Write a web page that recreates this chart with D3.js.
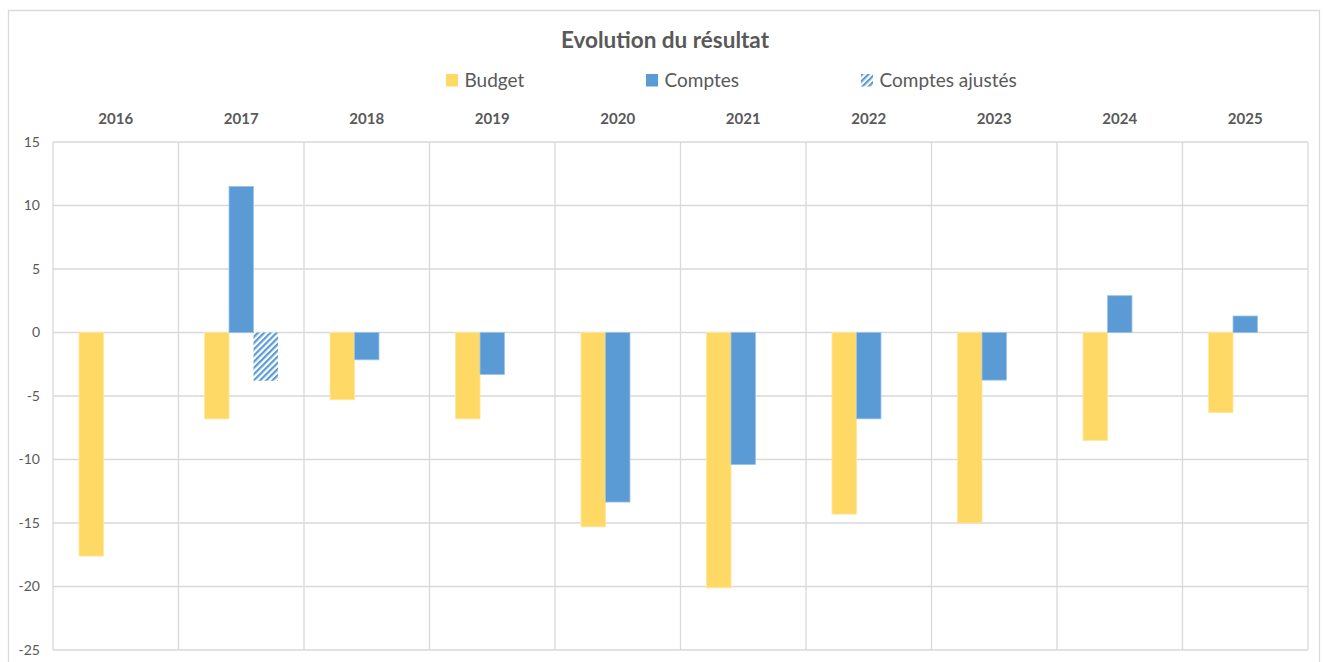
<!DOCTYPE html>
<html>
<head>
<meta charset="utf-8">
<script src="https://cdn.jsdelivr.net/npm/d3@7"></script>
<style>
  html, body { margin: 0; padding: 0; background: #fff; }
  svg { display: block; font-family: Lato, "Open Sans", sans-serif; }
</style>
</head>
<body>
<svg id="chart" width="1324" height="662"></svg>
<script>
// ---- data ----
const years = ["2016","2017","2018","2019","2020","2021","2022","2023","2024","2025"];
const seriesNames = ["Budget","Comptes","Comptes ajustés"];
const budget = [-17.6, -6.8, -5.3, -6.8, -15.3, -20.1, -14.3, -15.0, -8.5, -6.3];
const comptes = [null, 11.5, -2.15, -3.3, -13.35, -10.4, -6.8, -3.75, 2.9, 1.3];
const comptesAjustes = [null, -3.8, null, null, null, null, null, null, null, null];
const yTicks = [15, 10, 5, 0, -5, -10, -15, -20, -25];
const title = "Evolution du résultat";

// ---- layout ----
const svg = d3.select("#chart");
const plot = { left: 53, right: 1308, top: 142, bottom: 650 };
const colors = { "Budget": "#FFD966", "Comptes": "#5B9BD5" };
const strokes = { "Budget": "#FFE699", "Comptes": "#9DC3E6" };
const grid = "#D9D9D9";
const textCol = "#595959";

// outer border
svg.append("rect").attr("x", 8.5).attr("y", 10.5).attr("width", 1311).attr("height", 700)
  .attr("fill", "none").attr("stroke", grid).attr("stroke-width", 1.3);

// hatch pattern
const defs = svg.append("defs");
const pat = defs.append("pattern").attr("id", "hatch")
  .attr("patternUnits", "userSpaceOnUse").attr("width", 4.4).attr("height", 4.4)
  .attr("patternTransform", "rotate(45)");
pat.append("rect").attr("width", 4.4).attr("height", 4.4).attr("fill", "#fff");
pat.append("rect").attr("width", 2.2).attr("height", 4.4).attr("fill", "#5B9BD5");

const x0 = d3.scaleBand().domain(years).range([plot.left, plot.right]).padding(0);
const bw = x0.bandwidth();
const groupW = bw * 0.585;
const x1 = d3.scaleBand().domain(seriesNames).range([(bw - groupW) / 2, (bw + groupW) / 2]).padding(0);
const y = d3.scaleLinear().domain([-25, 15]).range([plot.bottom, plot.top]);

// horizontal gridlines
svg.append("g").selectAll("line").data(yTicks).join("line")
  .attr("x1", plot.left).attr("x2", plot.right)
  .attr("y1", d => y(d)).attr("y2", d => y(d))
  .attr("stroke", grid).attr("stroke-width", 1.3);

// vertical category separators
const bounds = years.map(d => x0(d)).concat([plot.right]);
svg.append("g").selectAll("line").data(bounds).join("line")
  .attr("x1", d => d).attr("x2", d => d)
  .attr("y1", plot.top).attr("y2", plot.bottom)
  .attr("stroke", grid).attr("stroke-width", 1.3);

// y axis labels
const yAxis = d3.axisLeft(y).tickValues(yTicks).tickSize(0).tickPadding(0)
  .tickFormat(d => d3.format("")(d).replace("−", "-"));
const yg = svg.append("g").attr("transform", `translate(${plot.left - 13},0)`).call(yAxis);
yg.select(".domain").remove();
yg.selectAll("text").attr("fill", textCol).style("font-size", "14px")
  .style("font-family", "Lato, 'Open Sans', sans-serif");

// x axis (top) labels
const xAxis = d3.axisTop(x0).tickSize(0).tickPadding(0);
const xg = svg.append("g").attr("transform", `translate(0,${plot.top - 18.5})`).call(xAxis);
xg.select(".domain").remove();
xg.selectAll("text").attr("fill", textCol).style("font-size", "15px").style("font-weight", "bold")
  .style("font-family", "Lato, 'Open Sans', sans-serif");

// bars
const rows = years.map((yr, i) => ({
  year: yr,
  vals: [
    { s: "Budget", v: budget[i] },
    { s: "Comptes", v: comptes[i] },
    { s: "Comptes ajustés", v: comptesAjustes[i] }
  ].filter(d => d.v !== null)
}));
const groups = svg.append("g").selectAll("g").data(rows).join("g")
  .attr("transform", d => `translate(${x0(d.year)},0)`);
groups.selectAll("rect").data(d => d.vals).join("rect")
  .attr("x", d => x1(d.s))
  .attr("width", x1.bandwidth())
  .attr("y", d => Math.min(y(d.v), y(0)))
  .attr("height", d => Math.abs(y(d.v) - y(0)))
  .attr("fill", d => d.s === "Comptes ajustés" ? "url(#hatch)" : colors[d.s])
  .attr("stroke", d => d.s === "Comptes ajustés" ? "none" : strokes[d.s])
  .attr("stroke-width", 0.8);

// title
svg.append("text").attr("x", 665).attr("y", 48).attr("text-anchor", "middle")
  .attr("fill", textCol).style("font-size", "22.5px").style("font-weight", "bold")
  .text(title);

// legend
const legendX = [446, 646, 861];
const lg = svg.append("g").selectAll("g").data(seriesNames).join("g")
  .attr("transform", (d, i) => `translate(${legendX[i]},74)`);
lg.append("rect").attr("width", 12).attr("height", 12.5)
  .attr("fill", d => d === "Comptes ajustés" ? "url(#hatch)" : colors[d]);
lg.append("text").attr("x", 18.5).attr("y", 12.5).attr("fill", textCol)
  .style("font-size", "19px").text(d => d);
</script>
</body>
</html>
